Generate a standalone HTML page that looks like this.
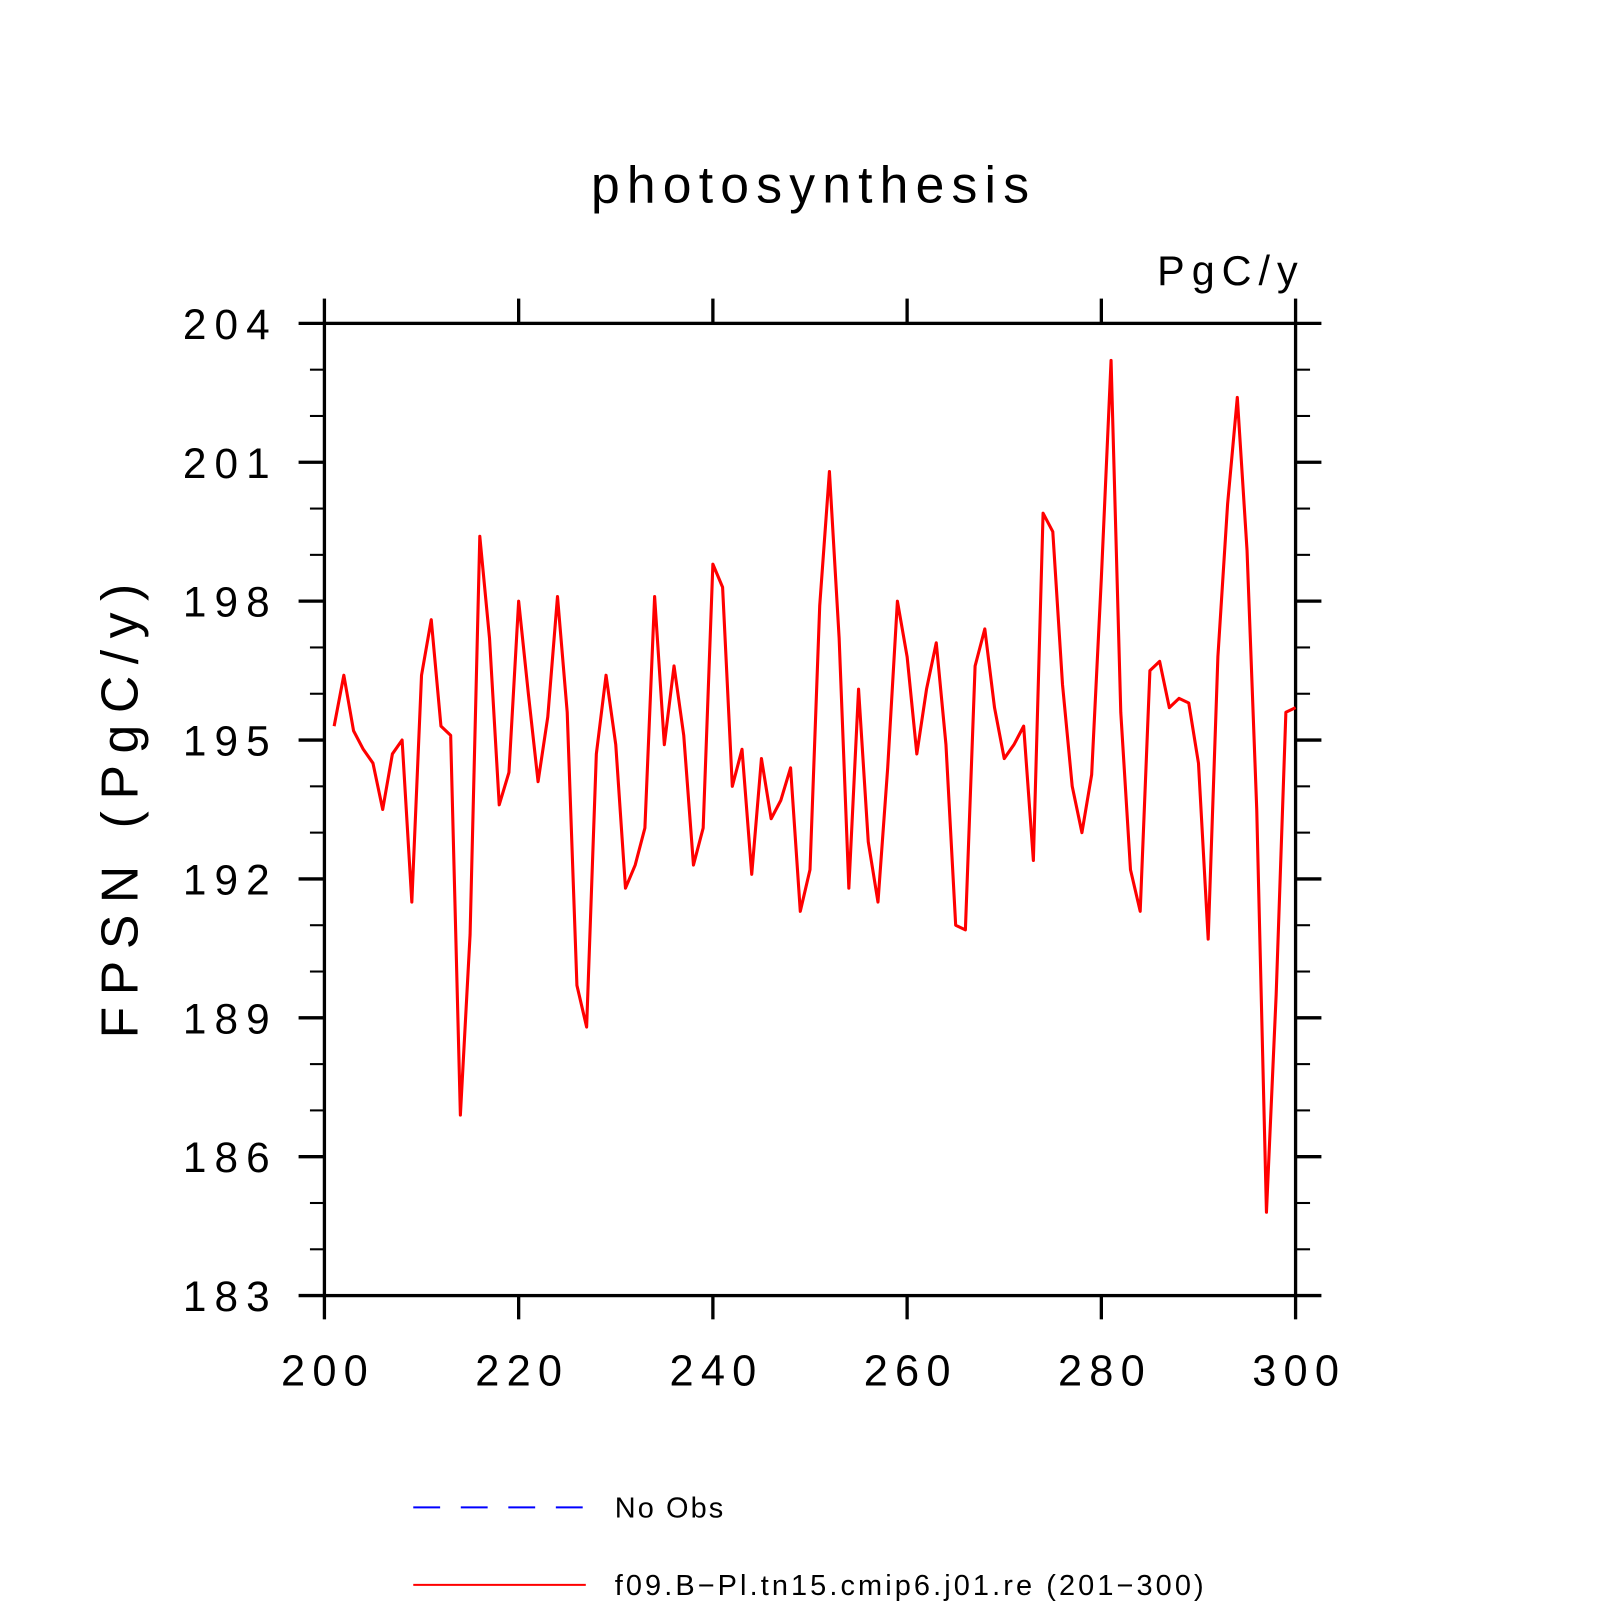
<!DOCTYPE html>
<html><head><meta charset="utf-8">
<style>
html,body{margin:0;padding:0;background:#fff;}
svg{display:block;}
text{font-family:"Liberation Sans",sans-serif;fill:#000;}
</style></head>
<body>
<svg id="chart" width="1620" height="1620" viewBox="0 0 1568 1568" xmlns="http://www.w3.org/2000/svg">
<text x="572" y="196" font-size="50" textLength="424" lengthAdjust="spacing">photosynthesis</text>
<text x="1120" y="276" font-size="40" textLength="136" lengthAdjust="spacing">PgC/y</text>
<text transform="translate(133,1005) rotate(-90)" font-size="50" textLength="440" lengthAdjust="spacing">FPSN  (PgC/y)</text>
<g id="axes"></g>
<g id="series"></g>
<g>
<line x1="400" y1="1459" x2="565" y2="1459" stroke="#0000ff" stroke-width="2" stroke-dasharray="26,20"/>
<text x="595" y="1469" font-size="28" textLength="105" lengthAdjust="spacing">No Obs</text>
<line x1="400" y1="1534" x2="567" y2="1534" stroke="#ff0000" stroke-width="2"/>
<text x="595" y="1544" font-size="28" textLength="570" lengthAdjust="spacing">f09.B−Pl.tn15.cmip6.j01.re (201−300)</text>
</g>
</svg>
<script>
const years = [];
for (let y = 201; y <= 300; y++) years.push(y);
const fpsnValues = [195.3,196.4,195.2,194.8,194.5,193.5,194.7,195.0,191.5,196.4,
197.6,195.3,195.1,186.9,190.8,199.4,197.2,193.6,194.3,198.0,
196.0,194.1,195.5,198.1,195.6,189.7,188.8,194.7,196.4,194.9,
191.8,192.3,193.1,198.1,194.9,196.6,195.1,192.3,193.1,198.8,
198.3,194.0,194.8,192.1,194.6,193.3,193.7,194.4,191.3,192.2,
197.9,200.8,197.2,191.8,196.1,192.8,191.5,194.4,198.0,196.8,
194.7,196.1,197.1,194.9,191.0,190.9,196.6,197.4,195.7,194.6,
194.9,195.3,192.4,199.9,199.5,196.2,194.0,193.0,194.25,198.5,
203.2,195.6,192.2,191.3,196.5,196.7,195.7,195.9,195.8,194.5,
190.7,196.8,200.1,202.4,199.1,193.5,184.8,189.5,195.6,195.7];
const xTicks = [200,220,240,260,280,300];
const yTicks = [183,186,189,192,195,198,201,204];

const L=314,R=1254,T=313,B=1254;
const xMin=200,xMax=300,yMin=183,yMax=204;
const xs = v => L + (v-xMin)/(xMax-xMin)*(R-L);
const ys = v => B - (v-yMin)/(yMax-yMin)*(B-T);
const NS="http://www.w3.org/2000/svg";
const axes=document.getElementById('axes');
function ln(x1,y1,x2,y2,w,name){
  const e=document.createElementNS(NS,'line');
  e.setAttribute('x1',x1);e.setAttribute('y1',y1);e.setAttribute('x2',x2);e.setAttribute('y2',y2);
  e.setAttribute('stroke','#000');e.setAttribute('stroke-width',w);
  
  
  axes.appendChild(e);
}
function tx(x,y,s,anchor,size,len,name){
  const e=document.createElementNS(NS,'text');
  e.setAttribute('x',x);e.setAttribute('y',y);e.setAttribute('text-anchor',anchor);e.setAttribute('font-size',size);
  e.setAttribute('textLength',len);e.setAttribute('lengthAdjust','spacing');
  e.textContent=s;
  
  
  axes.appendChild(e);
}
const frame=document.createElementNS(NS,'rect');
frame.setAttribute('x',L);frame.setAttribute('y',T);frame.setAttribute('width',R-L);frame.setAttribute('height',B-T);
frame.setAttribute('fill','none');frame.setAttribute('stroke','#000');frame.setAttribute('stroke-width',3.2);


axes.appendChild(frame);
xTicks.forEach(v=>{
  const x=xs(v);
  ln(x,B,x,B+23,3.2,'x-tick');
  ln(x,T,x,T-24,3.2,'x-tick-top');
  tx(x,1341,String(v),'middle',42,84,'x-tick-label');
});
yTicks.forEach(v=>{
  const y=ys(v);
  ln(L-25,y,L,y,3.2,'y-tick');
  ln(R,y,R+25,y,3.2,'y-tick-right');
  tx(261,y+15,String(v),'end',41,84,'y-tick-label');
});
for(let v=yMin+1; v<yMax; v++){
  if((v-yMin)%3===0) continue;
  const y=ys(v);
  ln(L-14,y,L,y,2,'y-minor-tick');
  ln(R,y,R+14,y,2,'y-minor-tick-right');
}
const series=document.getElementById('series');
const pl=document.createElementNS(NS,'polyline');
pl.setAttribute('points',years.map((yr,i)=>xs(yr)+','+ys(fpsnValues[i])).join(' '));
pl.setAttribute('fill','none');pl.setAttribute('stroke','#ff0000');pl.setAttribute('stroke-width',3);
pl.setAttribute('stroke-linejoin','round');


series.appendChild(pl);
</script>
</body></html>
